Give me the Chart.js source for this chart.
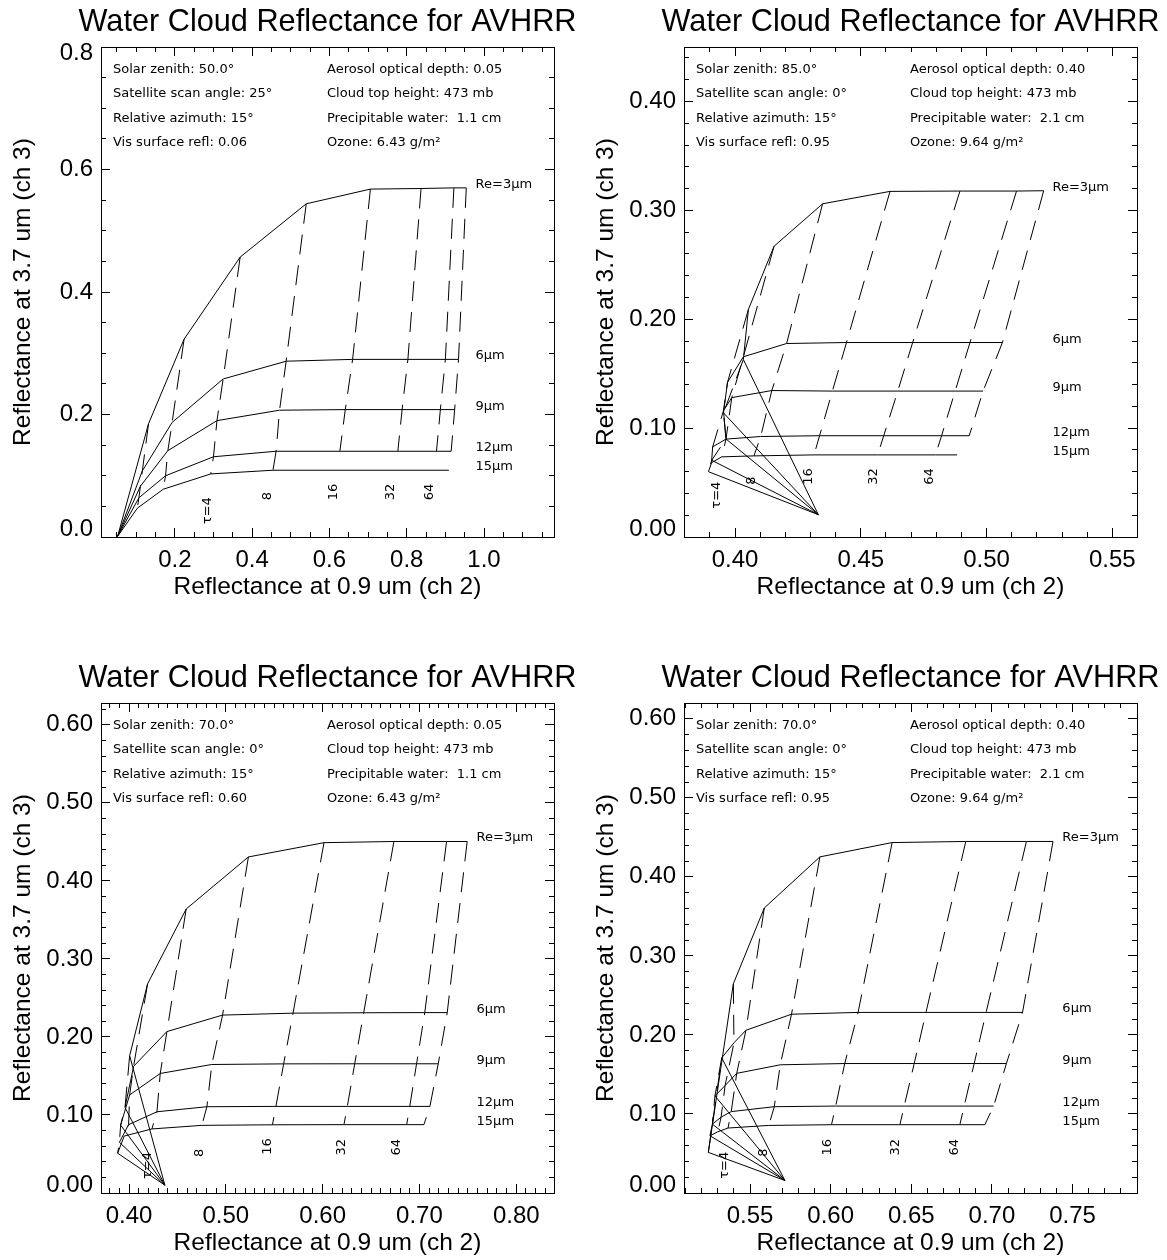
<!DOCTYPE html>
<html>
<head>
<meta charset="utf-8">
<title>Water Cloud Reflectance for AVHRR</title>
<script src="https://cdn.jsdelivr.net/npm/chart.js@4.4.0/dist/chart.umd.min.js"></script>
<style>
    html, body { margin: 0; padding: 0; background: #fff; overflow: hidden; }
    #page { position: relative; width: 1167px; height: 1260px; background: #fff; overflow: hidden; }
    .panel { position: absolute; width: 655px; height: 604px; }
</style>
</head>
<body>
<div id="page">
    <div class="panel" style="left:0;top:0"><canvas id="canvas-0" width="655" height="604"></canvas></div>
    <div class="panel" style="left:583px;top:0"><canvas id="canvas-1" width="655" height="604"></canvas></div>
    <div class="panel" style="left:0;top:656px"><canvas id="canvas-2" width="655" height="604"></canvas></div>
    <div class="panel" style="left:583px;top:656px"><canvas id="canvas-3" width="655" height="604"></canvas></div>
</div>
<script>
var titleText = 'Water Cloud Reflectance for AVHRR';
var xTitle = 'Reflectance at 0.9 um (ch 2)';
var yTitle = 'Reflectance at 3.7 um (ch 3)';

// effective radius rows, optical depth columns
var reSizes = [3, 6, 9, 12, 15];
var reLabels = ['Re=3\u03bcm', '6\u03bcm', '9\u03bcm', '12\u03bcm', '15\u03bcm'];
var tauSteps = [0, 1, 2, 4, 8, 16, 32, 64, 128];
var tauLabels = ['\u03c4=4', '8', '16', '32', '64'];

// panel 1
var p1Info = ['Solar zenith: 50.0\u00b0', 'Satellite scan angle: 25\u00b0', 'Relative azimuth: 15\u00b0', 'Vis surface refl: 0.06',
    'Aerosol optical depth: 0.05', 'Cloud top height: 473 mb', 'Precipitable water:  1.1 cm', 'Ozone: 6.43 g/m\u00b2'];
var p1X = [
    [0.052, 0.132, 0.224, 0.369, 0.540, 0.706, 0.837, 0.922, 0.954],
    [0.052, 0.116, 0.193, 0.325, 0.488, 0.660, 0.803, 0.900, 0.934],
    [0.052, 0.111, 0.182, 0.309, 0.471, 0.641, 0.788, 0.887, 0.924],
    [0.052, 0.107, 0.176, 0.300, 0.462, 0.627, 0.777, 0.877, 0.915],
    [0.052, 0.103, 0.170, 0.293, 0.454, null, null, null, 0.909]
];
var p1Y = [
    [0.001, 0.185, 0.323, 0.457, 0.544, 0.568, 0.569, 0.570, 0.570],
    [0.001, 0.108, 0.187, 0.258, 0.287, 0.290, 0.290, 0.290, 0.290],
    [0.001, 0.083, 0.141, 0.190, 0.207, 0.208, 0.208, 0.208, 0.208],
    [0.001, 0.064, 0.100, 0.131, 0.140, 0.140, 0.140, 0.140, 0.140],
    [0.001, 0.047, 0.078, 0.103, 0.109, null, null, null, 0.109]
];
var p1DashRows = [0, 5, 5, 5, 5, 4, 4, 4, 4];
var p1XTicks = [0.2, 0.4, 0.6, 0.8, 1.0];
var p1YTicks = [0.0, 0.2, 0.4, 0.6, 0.8];

// panel 2
var p2Info = ['Solar zenith: 85.0\u00b0', 'Satellite scan angle: 0\u00b0', 'Relative azimuth: 15\u00b0', 'Vis surface refl: 0.95',
    'Aerosol optical depth: 0.40', 'Cloud top height: 473 mb', 'Precipitable water:  2.1 cm', 'Ozone: 9.64 g/m\u00b2'];
var p2X = [
    [0.4331, 0.4033, 0.4053, 0.4155, 0.4348, 0.4616, 0.4894, 0.5119, 0.5227],
    [0.4331, 0.3954, 0.3970, 0.4033, 0.4205, 0.4443, 0.4706, 0.4934, 0.5063],
    [0.4331, 0.3964, 0.3954, 0.3987, 0.4146, 0.4387, 0.4647, 0.4875, 0.4986],
    [0.4331, 0.3907, 0.3911, 0.3964, 0.4102, 0.4336, 0.4591, 0.4821, 0.4931],
    [0.4331, 0.3894, 0.3907, 0.3947, 0.4075, 0.4314, 0.4567, 0.4797, 0.4883]
];
var p2Y = [
    [0.0205, 0.163, 0.209, 0.267, 0.306, 0.3174, 0.3177, 0.3177, 0.318],
    [0.0205, 0.114, 0.142, 0.1655, 0.1777, 0.1786, 0.1786, 0.1786, 0.1786],
    [0.0205, 0.090, 0.116, 0.128, 0.1345, 0.134, 0.134, 0.134, 0.134],
    [0.0205, 0.0705, 0.0828, 0.0899, 0.0923, 0.093, 0.093, 0.093, 0.093],
    [0.0205, 0.060, 0.0683, 0.0736, 0.0745, 0.0754, 0.0754, 0.0754, 0.0754]
];
var p2DashRows = [0, 5, 5, 5, 5, 5, 5, 5, 4];
var p2XTicks = [0.40, 0.45, 0.50, 0.55];
var p2YTicks = [0.00, 0.10, 0.20, 0.30, 0.40];

// panel 3
var p3Info = ['Solar zenith: 70.0\u00b0', 'Satellite scan angle: 0\u00b0', 'Relative azimuth: 15\u00b0', 'Vis surface refl: 0.60',
    'Aerosol optical depth: 0.05', 'Cloud top height: 473 mb', 'Precipitable water:  1.1 cm', 'Ozone: 6.43 g/m\u00b2'];
var p3X = [
    [0.4370, 0.4006, 0.4191, 0.4590, 0.5233, 0.6014, 0.6736, 0.7280, 0.7493],
    [0.4370, 0.3958, 0.4047, 0.4391, 0.4966, 0.5694, 0.6424, 0.7055, 0.7287],
    [0.4370, 0.3913, 0.4006, 0.4322, 0.4855, 0.5597, 0.6331, 0.6970, 0.7194],
    [0.4370, 0.3900, 0.3995, 0.4288, 0.4804, 0.5517, 0.6255, 0.6900, 0.7108],
    [0.4370, 0.3882, 0.3950, 0.4236, 0.4752, 0.5481, 0.6220, 0.6868, 0.7046]
];
var p3Y = [
    [0.010, 0.176, 0.268, 0.364, 0.4307, 0.449, 0.4505, 0.4505, 0.4505],
    [0.010, 0.1096, 0.1624, 0.2069, 0.228, 0.2305, 0.231, 0.2312, 0.2312],
    [0.010, 0.087, 0.1257, 0.1532, 0.1647, 0.1655, 0.1656, 0.1656, 0.1656],
    [0.010, 0.065, 0.0876, 0.1041, 0.1106, 0.111, 0.111, 0.111, 0.111],
    [0.010, 0.051, 0.073, 0.0821, 0.0867, 0.0874, 0.0876, 0.0876, 0.0876]
];
var p3DashRows = [0, 5, 5, 5, 5, 5, 5, 5, 5];
var p3XTicks = [0.40, 0.50, 0.60, 0.70, 0.80];
var p3YTicks = [0.00, 0.10, 0.20, 0.30, 0.40, 0.50, 0.60];

// panel 4
var p4Info = ['Solar zenith: 70.0\u00b0', 'Satellite scan angle: 0\u00b0', 'Relative azimuth: 15\u00b0', 'Vis surface refl: 0.95',
    'Aerosol optical depth: 0.40', 'Cloud top height: 473 mb', 'Precipitable water:  2.1 cm', 'Ozone: 9.64 g/m\u00b2'];
var p4X = [
    [0.5716, 0.5241, 0.5396, 0.5588, 0.5933, 0.6381, 0.6838, 0.7214, 0.7379],
    [0.5716, 0.5324, 0.5400, 0.5474, 0.5757, 0.6170, 0.6591, 0.6964, 0.7190],
    [0.5716, 0.5282, 0.5345, 0.5417, 0.5687, 0.6087, 0.6518, 0.6890, 0.7090],
    [0.5716, 0.5266, 0.5320, 0.5383, 0.5650, 0.6031, 0.6456, 0.6828, 0.7011],
    [0.5716, 0.5251, 0.5300, 0.5363, 0.5616, 0.6005, 0.6429, 0.6801, 0.6956]
];
var p4Y = [
    [0.0158, 0.0514, 0.2647, 0.3606, 0.4253, 0.4434, 0.4448, 0.4448, 0.4448],
    [0.0158, 0.171, 0.190, 0.2059, 0.2262, 0.2285, 0.2285, 0.2285, 0.2285],
    [0.0158, 0.1229, 0.136, 0.1514, 0.1622, 0.1638, 0.1638, 0.1638, 0.1638],
    [0.0158, 0.0871, 0.096, 0.103, 0.1092, 0.110, 0.110, 0.110, 0.110],
    [0.0158, 0.0724, 0.0775, 0.0822, 0.0855, 0.0864, 0.0864, 0.0864, 0.0864]
];
var p4DashRows = [0, 5, 5, 5, 5, 5, 5, 5, 5];
var p4XTicks = [0.55, 0.60, 0.65, 0.70, 0.75];
var p4YTicks = [0.00, 0.10, 0.20, 0.30, 0.40, 0.50, 0.60];

var panels = [
    {canvas: 'canvas-0', info: p1Info, xs: p1X, ys: p1Y, dashRows: p1DashRows,
        xMin: 0.009, xMax: 1.181, yMin: 0, yMax: 0.8, xTicks: p1XTicks, yTicks: p1YTicks,
        xMinor: 0.05, yMinor: 0.05, xDec: 1, yDec: 1, reLabelX: 0.978,
        tauLabelX: [0.284, 0.4405, 0.611, 0.758, 0.859], tauLabelY: [0.021, 0.060, 0.060, 0.060, 0.060]},
    {canvas: 'canvas-1', info: p2Info, xs: p2X, ys: p2Y, dashRows: p2DashRows,
        xMin: 0.3797, xMax: 0.5598, yMin: 0, yMax: 0.45, xTicks: p2XTicks, yTicks: p2YTicks,
        xMinor: 0.01, yMinor: 0.02, xDec: 2, yDec: 2, reLabelX: 0.5262,
        tauLabelX: [0.3927, 0.4066, 0.4291, 0.4549, 0.4775], tauLabelY: [0.026, 0.048, 0.048, 0.048, 0.048]},
    {canvas: 'canvas-2', info: p3Info, xs: p3X, ys: p3Y, dashRows: p3DashRows,
        xMin: 0.371, xMax: 0.839, yMin: 0, yMax: 0.628, xTicks: p3XTicks, yTicks: p3YTicks,
        xMinor: 0.01, yMinor: 0.02, xDec: 2, yDec: 2, reLabelX: 0.759,
        tauLabelX: [0.4191, 0.4728, 0.543, 0.6196, 0.6764], tauLabelY: [0.018, 0.046, 0.049, 0.048, 0.048]},
    {canvas: 'canvas-3', info: p4Info, xs: p4X, ys: p4Y, dashRows: p4DashRows,
        xMin: 0.509, xMax: 0.790, yMin: 0, yMax: 0.620, xTicks: p4XTicks, yTicks: p4YTicks,
        xMinor: 0.01, yMinor: 0.02, xDec: 2, yDec: 2, reLabelX: 0.7437,
        tauLabelX: [0.5344, 0.5586, 0.5978, 0.6404, 0.677], tauLabelY: [0.018, 0.046, 0.0475, 0.0475, 0.0475]}
];

var axisFont = 'Liberation Sans';
var noteFont = '13px "DejaVu Sans"';
var dashPattern = [20, 11];

function minorValues(min, max, step) {
    var values = [];
    var first = Math.ceil(min / step - 1e-6);
    var last = Math.floor(max / step + 1e-6);
    for (var k = first; k <= last; k++) {
        values.push(+(k * step).toFixed(4));
    }
    return values;
}

function isEdge(v, min, max) {
    return Math.abs(v - min) < 1e-6 || Math.abs(v - max) < 1e-6;
}

function zeroPadding(scale) {
    scale.paddingLeft = 0;
    scale.paddingRight = 0;
    scale.paddingTop = 0;
    scale.paddingBottom = 0;
}

// one tick axis; IDL style ticks point into the plot box
// size: box height/width the axis takes (labels, titles or just room on the right)
function tickAxis(axis, position, min, max, values, length, size, labeled, decimals, title) {
    var horizontal = axis === 'x';
    var cfg = {
        type: 'linear', axis: axis, position: position, min: min, max: max,
        weight: size > 0 ? 0 : -1,
        border: {display: true, color: '#000', width: 1},
        grid: {display: true, drawOnChartArea: false, drawTicks: true, tickLength: -length, color: '#000', lineWidth: 1},
        ticks: {
            display: labeled, autoSkip: false, maxRotation: 0, minRotation: 0, color: '#000',
            font: {family: axisFont, size: 24},
            padding: horizontal ? 17.6 : 17,
            callback: function (value) {
                // end labels on the y axis are drawn by the shifted label axes
                if (!horizontal && isEdge(value, min, max)) return '';
                return Number(value).toFixed(decimals);
            }
        },
        afterBuildTicks: function (scale) {
            scale.ticks = values.map(function (v) { return {value: v}; });
        },
        afterFit: function (scale) {
            if (horizontal) {
                scale.height = size;
            } else {
                scale.width = size;
            }
            zeroPadding(scale);
        }
    };
    if (title) {
        cfg.title = {
            display: true, text: title, color: '#000',
            font: {family: axisFont, size: 24.5},
            padding: horizontal ? {top: 0, bottom: 1.6} : {top: 8.6, bottom: 0}
        };
    }
    return cfg;
}

// y label at the very end of the axis, pulled inside the box like IDL does
function edgeLabelAxis(min, max, value, shift, decimals) {
    return {
        type: 'linear', axis: 'y', position: 'left', min: min, max: max, weight: -1,
        border: {display: false},
        grid: {display: true, drawOnChartArea: false, drawTicks: true, tickLength: -9, color: 'rgba(0,0,0,0)'},
        ticks: {
            display: true, autoSkip: false, color: '#000', labelOffset: shift,
            font: {family: axisFont, size: 24}, padding: 17,
            callback: function (v) { return Number(v).toFixed(decimals); }
        },
        afterBuildTicks: function (scale) {
            scale.ticks = [{value: value}];
        },
        afterFit: function (scale) {
            scale.width = 0;
            zeroPadding(scale);
        }
    };
}

// the zero width label axes need the full left margin so their text is not clipped
var edgeLabelPlugin = {
    id: 'edgeLabels',
    afterLayout: function (chart) {
        ['yLowLabel', 'yHighLabel'].forEach(function (id) {
            if (chart.scales[id]) {
                chart.scales[id].left = 0;
            }
        });
    }
};

function lineSet(points, dash) {
    return {
        data: points, showLine: true, borderColor: '#000', borderWidth: 1,
        borderDash: dash, pointRadius: 0, pointHoverRadius: 0, fill: false, tension: 0
    };
}

function buildDatasets(panel) {
    var sets = [];
    var r, t, pts;
    for (r = 0; r < reSizes.length; r++) {
        pts = [];
        for (t = 0; t < tauSteps.length; t++) {
            if (panel.xs[r][t] != null) {
                pts.push({x: panel.xs[r][t], y: panel.ys[r][t]});
            }
        }
        sets.push(lineSet(pts, []));
    }
    for (t = 1; t < tauSteps.length; t++) {
        pts = [];
        for (r = 0; r < panel.dashRows[t]; r++) {
            if (panel.xs[r][t] != null) {
                pts.push({x: panel.xs[r][t], y: panel.ys[r][t]});
            }
        }
        if (pts.length > 1) {
            sets.push(lineSet(pts, dashPattern));
        }
    }
    return sets;
}

function lastValue(row) {
    for (var i = row.length - 1; i >= 0; i--) {
        if (row[i] != null) return row[i];
    }
    return null;
}

// parameter block, curve names and optical depth marks
function labelPlugin(panel) {
    return {
        id: 'cloudLabels',
        afterDraw: function (chart) {
            var ctx = chart.ctx;
            var area = chart.chartArea;
            var xs = chart.scales.x;
            var ys = chart.scales.y;
            var rowBase = [25.8, 50.3, 74.8, 99.3];
            ctx.save();
            ctx.fillStyle = '#000';
            ctx.font = noteFont;
            ctx.textAlign = 'left';
            ctx.textBaseline = 'alphabetic';
            for (var i = 0; i < 4; i++) {
                ctx.fillText(panel.info[i], area.left + 12, area.top + rowBase[i]);
                ctx.fillText(panel.info[i + 4], area.left + 226, area.top + rowBase[i]);
            }
            for (var r = 0; r < reSizes.length; r++) {
                ctx.fillText(reLabels[r], xs.getPixelForValue(panel.reLabelX), ys.getPixelForValue(lastValue(panel.ys[r])));
            }
            ctx.textBaseline = 'middle';
            for (var k = 0; k < tauLabels.length; k++) {
                ctx.save();
                ctx.translate(xs.getPixelForValue(panel.tauLabelX[k]), ys.getPixelForValue(panel.tauLabelY[k]));
                ctx.rotate(-Math.PI / 2);
                ctx.fillText(tauLabels[k], 0, 0);
                ctx.restore();
            }
            ctx.restore();
        }
    };
}

function drawPanel(panel) {
    var xMinorTicks = minorValues(panel.xMin, panel.xMax, panel.xMinor);
    var yMinorTicks = minorValues(panel.yMin, panel.yMax, panel.yMinor);
    var scales = {
        x: tickAxis('x', 'bottom', panel.xMin, panel.xMax, panel.xTicks, 9, 67, true, panel.xDec, xTitle),
        xMinor: tickAxis('x', 'bottom', panel.xMin, panel.xMax, xMinorTicks, 5, 0, false, panel.xDec),
        xTop: tickAxis('x', 'top', panel.xMin, panel.xMax, panel.xTicks, 9, 0, false, panel.xDec),
        xTopMinor: tickAxis('x', 'top', panel.xMin, panel.xMax, xMinorTicks, 5, 0, false, panel.xDec),
        y: tickAxis('y', 'left', panel.yMin, panel.yMax, panel.yTicks, 9, 101, true, panel.yDec, yTitle),
        yMinor: tickAxis('y', 'left', panel.yMin, panel.yMax, yMinorTicks, 5, 0, false, panel.yDec),
        yRight: tickAxis('y', 'right', panel.yMin, panel.yMax, panel.yTicks, 9, 101, false, panel.yDec),
        yRightMinor: tickAxis('y', 'right', panel.yMin, panel.yMax, yMinorTicks, 5, 0, false, panel.yDec)
    };
    var firstY = panel.yTicks[0];
    var lastY = panel.yTicks[panel.yTicks.length - 1];
    if (isEdge(firstY, panel.yMin, panel.yMax)) {
        scales.yLowLabel = edgeLabelAxis(panel.yMin, panel.yMax, firstY, -7.5, panel.yDec);
    }
    if (isEdge(lastY, panel.yMin, panel.yMax)) {
        scales.yHighLabel = edgeLabelAxis(panel.yMin, panel.yMax, lastY, 6.5, panel.yDec);
    }
    var ctx = document.getElementById(panel.canvas).getContext('2d');
    return new Chart(ctx, {
        type: 'scatter',
        data: {datasets: buildDatasets(panel)},
        options: {
            responsive: false,
            devicePixelRatio: 1,
            animation: false,
            events: [],
            layout: {padding: 0},
            scales: scales,
            plugins: {
                legend: {display: false},
                tooltip: {enabled: false},
                title: {
                    display: true, text: titleText, fullSize: true, color: '#000',
                    font: {family: axisFont, size: 30.7, weight: 'normal'},
                    padding: {top: 4.1, bottom: 6.06}
                }
            }
        },
        plugins: [edgeLabelPlugin, labelPlugin(panel)]
    });
}

for (var i = 0; i < panels.length; i++) {
    drawPanel(panels[i]);
}
</script>
</body>
</html>
